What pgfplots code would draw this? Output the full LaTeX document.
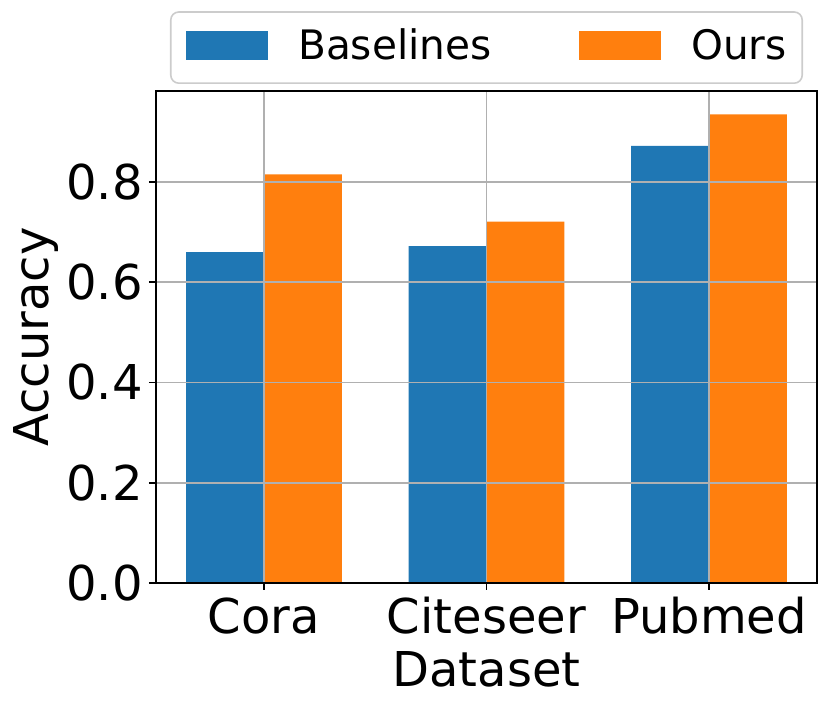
\documentclass[border=0pt]{standalone}
\usepackage{pgfplots}
\pgfplotsset{compat=1.18}
\usepackage{fontspec}
\setmainfont{DejaVu Sans}
\definecolor{mblue}{HTML}{1F77B4}
\definecolor{morange}{HTML}{FF7F0E}
\definecolor{mgrid}{HTML}{B0B0B0}
\definecolor{mlegend}{HTML}{CCCCCC}
\begin{document}
\begin{tikzpicture}
\begin{axis}[
  at={(0pt,0pt)}, anchor=south west,
  scale only axis, width=330.5pt, height=246pt,
  xmin=-0.485, xmax=2.485, ymin=0, ymax=0.9815,
  xtick={0,1,2}, xticklabels={Cora,Citeseer,Pubmed},
  ytick={0,0.2,0.4,0.6,0.8},
  tick align=outside, tick pos=left, major tick length=3.5pt,
  every tick/.style={black, line width=0.8pt},
  axis line style={black, line width=0.8pt},
  grid=major, major grid style={mgrid, line width=0.8pt},
  axis on top,
  /pgf/number format/assume math mode=true,
  /pgf/number format/fixed, /pgf/number format/fixed zerofill, /pgf/number format/precision=1,
  tick label style={font=\fontsize{24}{28.8}\selectfont, inner sep=0pt},
  yticklabel style={anchor=east, xshift=-3pt},
  xticklabel style={anchor=base, yshift=-22pt},
  xlabel={Dataset}, ylabel={Accuracy},
  every axis x label/.style={at={(axis description cs:0.5,0)}, anchor=base, yshift=-52pt,
    font=\fontsize{24}{28.8}\selectfont, inner sep=0pt},
  every axis y label/.style={at={(axis description cs:-0.1808,0.5)}, rotate=90, anchor=center,
    font=\fontsize{24}{28.8}\selectfont, inner sep=0pt},
  legend columns=2,
  legend style={at={(axis description cs:0.5,1)}, anchor=south, yshift=3.5pt,
    draw=mlegend, line width=0.8pt, rounded corners=4pt,
    inner xsep=7.7pt, inner ysep=9.35pt,
    font=\fontsize{20.3}{24}\selectfont,
    cells={anchor=base west},
    nodes={inner sep=0pt, text height=14.6pt, text depth=2.3pt},
    column sep=15pt,
    /tikz/every even column/.append style={column sep=43.9pt},
  },
]
\addplot[ybar, bar width=0.35, bar shift=0pt, fill=mblue, draw=none,
  legend image code/.code={\fill[mblue, sharp corners] (0pt,0pt) rectangle (41pt,14.5pt);}]
  coordinates {(-0.175,0.660) (0.825,0.672) (1.825,0.872)};
\addplot[ybar, bar width=0.35, bar shift=0pt, fill=morange, draw=none,
  legend image code/.code={\fill[morange, sharp corners] (0pt,0pt) rectangle (41pt,14.5pt);}]
  coordinates {(0.175,0.815) (1.175,0.721) (2.175,0.935)};
\legend{Baselines,Ours}
\end{axis}
\pgfresetboundingbox
\useasboundingbox (-78pt,-63.5pt) rectangle (337.5pt,291.5pt);
\end{tikzpicture}
\end{document}
